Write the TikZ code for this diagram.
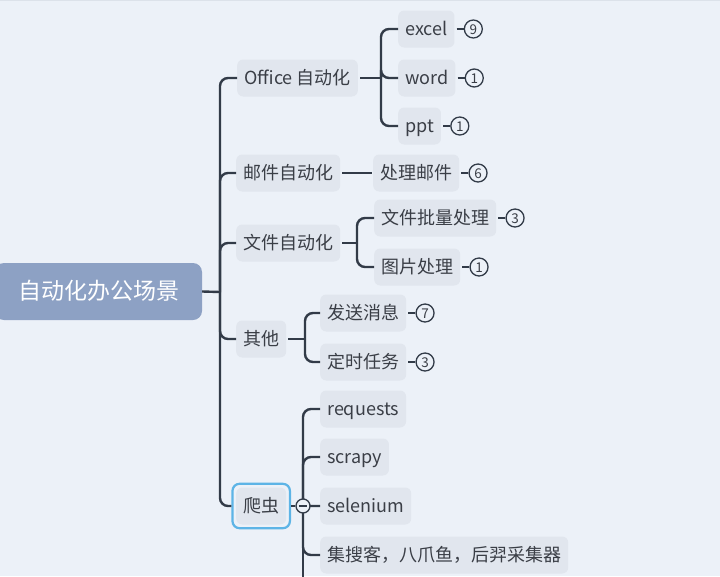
\documentclass[tikz,border=0pt]{standalone}
\usepackage{fontspec}
\setmainfont{Noto Sans CJK SC}
\usetikzlibrary{positioning,fit}
\definecolor{bgcol}{HTML}{ECF1F8}
\definecolor{edgecol}{HTML}{DCE2EA}
\definecolor{boxcol}{HTML}{E1E6EE}
\definecolor{rootcol}{HTML}{8DA1C4}
\definecolor{linecol}{HTML}{323B48}
\definecolor{txtcol}{HTML}{3A3E46}
\definecolor{selcol}{HTML}{5DB4E6}
\tikzset{
  topic/.style={fill=boxcol,rounded corners=6pt,text=txtcol,font=\fontsize{18}{18}\selectfont,
    inner xsep=7pt,inner ysep=0pt,minimum height=37pt,text height=15.5pt,text depth=2.3pt,anchor=west},
  root/.style={fill=rootcol,rounded corners=9pt,text=white,font=\fontsize{23}{23}\selectfont,
    minimum width=207pt,minimum height=57pt,text height=20pt,text depth=3.2pt},
  link/.style={draw=linecol,line width=2.4pt,rounded corners=8pt},
  count/.style={circle,draw=linecol,line width=1.3pt,fill=bgcol,minimum size=18pt,inner sep=0pt,
    text=txtcol,font=\fontsize{13.5}{13.5}\selectfont,text height=10pt,text depth=0pt},
  tick/.style={draw=linecol,line width=2pt,shorten <=2pt},
  fold/.style={circle,draw=linecol,line width=1.3pt,fill=bgcol,minimum size=14pt,inner sep=0pt},
  foldmark/.style={draw=linecol,line width=1.3pt},
  selframe/.style={draw=selcol,line width=2.2pt,rounded corners=7pt,inner sep=3.5pt},
}
\begin{document}
\begin{tikzpicture}[x=1pt,y=-1pt]
\useasboundingbox (0,0) rectangle (720,576);
\fill[bgcol] (0,0) rectangle (720,576);
\draw[edgecol,line width=1.2pt] (0,0.6) -- (720,0.6);

% root and first level
\node[root] (root) at (98.5,291.5) {自动化办公场景};
\node[topic] (office) at (237,78) {Office 自动化};
\node[topic] (mail) at (236,173) {邮件自动化};
\node[topic] (file) at (236,243) {文件自动化};
\node[topic] (other) at (236,339) {其他};
\node[topic] (spider) at (236,506) {爬虫};
\node[selframe,fit=(spider)] (spidersel) {};

\coordinate (trunk) at (220,292);
\draw[link] (root.east) -- (trunk);
\foreach \t in {office,mail,file,other} \draw[link] (trunk) |- (\t.west);
\draw[link] (trunk) |- (spidersel.west);

% office
\node[topic] (excel) at (398,29) {excel};
\node[topic] (word) at (398,78) {word};
\node[topic] (ppt) at (398,126) {ppt};
\coordinate (officej) at (381,78);
\draw[link,shorten <=2pt] (office.east) -- (officej);
\foreach \t in {excel,word,ppt} \draw[link] (officej) |- (\t.west);

% mail
\node[topic] (mailjob) at (373,173) {处理邮件};
\draw[link,shorten <=2pt,shorten >=1pt] (mail.east) -- (mailjob.west);

% files
\node[topic] (batch) at (374,218) {文件批量处理};
\node[topic] (image) at (374,267) {图片处理};
\coordinate (filej) at (357,243);
\draw[link,shorten <=2pt] (file.east) -- (filej);
\foreach \t in {batch,image} \draw[link] (filej) |- (\t.west);

% other
\node[topic] (send) at (320,313) {发送消息};
\node[topic] (timer) at (320,362) {定时任务};
\coordinate (otherj) at (305,339);
\draw[link,shorten <=2pt] (other.east) -- (otherj);
\foreach \t in {send,timer} \draw[link] (otherj) |- (\t.west);

% counts
\node[count,right=9pt of excel] (excelnum) {9};
\node[count,right=9pt of word] (wordnum) {1};
\node[count,right=9pt of ppt] (pptnum) {1};
\node[count,right=9pt of mailjob] (mailjobnum) {6};
\node[count,right=9pt of batch] (batchnum) {3};
\node[count,right=9pt of image] (imagenum) {1};
\node[count,right=9pt of send] (sendnum) {7};
\node[count,right=9pt of timer] (timernum) {3};
\foreach \t in {excel,word,ppt,mailjob,batch,image,send,timer}
  \draw[tick] (\t.east) -- (\t num.west);

% spider
\node[topic] (requests) at (320,409) {requests};
\node[topic] (scrapy) at (320,457) {scrapy};
\node[topic] (selenium) at (320,506) {selenium};
\node[topic] (collect) at (320,555) {集搜客，八爪鱼，后羿采集器};
\coordinate (spiderj) at (303,506);
\coordinate (spiderend) at (303,600);
\foreach \t in {requests,scrapy,selenium,collect} \draw[link] (spiderj) |- (\t.west);
\draw[link] (spiderj) -- (spiderend);
\node[fold] (foldbtn) at (spiderj) {};
\draw[foldmark] ([xshift=3.5pt]foldbtn.west) -- ([xshift=-3.5pt]foldbtn.east);
\draw[foldmark] (spidersel.east) -- (foldbtn.west);
\end{tikzpicture}
\end{document}
